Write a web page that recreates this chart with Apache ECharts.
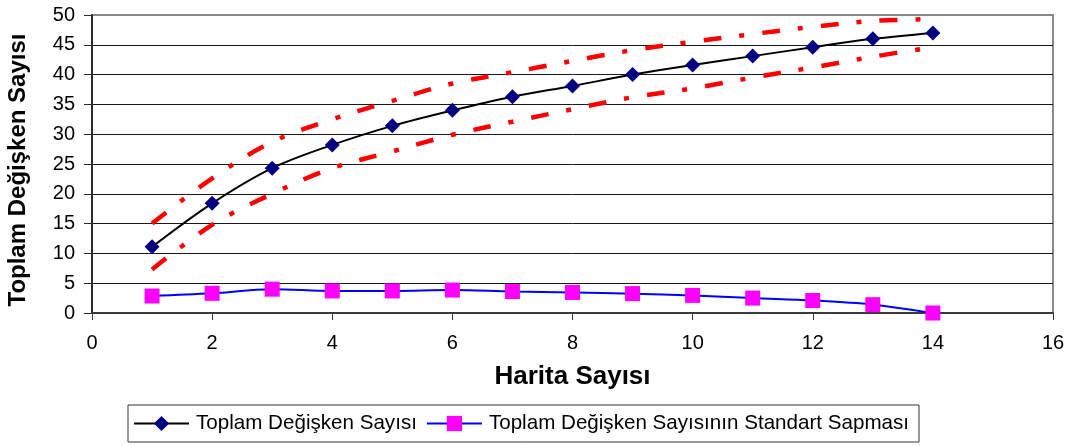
<!DOCTYPE html>
<html>
<head>
<meta charset="utf-8">
<script src="https://cdn.jsdelivr.net/npm/echarts@6/dist/echarts.min.js"></script>
<style>
  html, body { margin: 0; padding: 0; background: #ffffff; }
  #chart { width: 1077px; height: 446px; }
</style>
</head>
<body>
<div id="chart"></div>
<script>
// Number of maps (x axis)
const haritaSayisi = [1, 2, 3, 4, 5, 6, 7, 8, 9, 10, 11, 12, 13, 14];
// Total number of variables
const toplamDegisken = [11.1, 18.4, 24.3, 28.2, 31.4, 34.0, 36.3, 38.1, 40.0, 41.6, 43.1, 44.6, 46.0, 47.0];
// Standard deviation of the total number of variables
const standartSapma = [2.85, 3.3, 4.0, 3.7, 3.7, 3.85, 3.6, 3.45, 3.25, 2.95, 2.5, 2.1, 1.4, 0.0];
// Upper and lower band around the total
const ustSinir = [15.0, 22.6, 28.7, 32.5, 35.6, 38.5, 40.4, 42.3, 44.1, 45.5, 46.8, 48.0, 49.0, 49.3];
const altSinir = [7.3, 14.8, 20.0, 24.3, 27.1, 29.9, 32.1, 34.2, 36.2, 37.7, 39.5, 41.2, 43.0, 44.6];

const FONT = '"Liberation Sans", Arial, sans-serif';
const pairs = ys => haritaSayisi.map((x, i) => [x, ys[i]]);

const chart = echarts.init(document.getElementById('chart'), null, { renderer: 'canvas' });

const bandLine = {
  color: '#ff0000',
  width: 4.5,
  type: [18, 18, 5, 18],
  cap: 'butt'
};

chart.setOption({
  animation: false,
  backgroundColor: '#ffffff',
  grid: {
    left: 92, top: 15, right: 24, bottom: 133,
    show: true,
    borderColor: '#888888',
    borderWidth: 2,
    containLabel: false,
    outerBoundsMode: 'none'
  },
  legend: {
    left: 128,
    top: 405,
    orient: 'horizontal',
    data: ['Toplam Değişken Sayısı', 'Toplam Değişken Sayısının Standart Sapması'],
    itemWidth: 55,
    itemHeight: 19,
    itemGap: 9,
    padding: [8, 10, 8, 5],
    borderColor: '#333333',
    borderWidth: 1,
    textStyle: { fontFamily: FONT, fontSize: 20.6, color: '#000000', padding: [0, 0, 0, 2] }
  },
  xAxis: {
    type: 'value',
    min: 0, max: 16, interval: 2,
    name: 'Harita Sayısı',
    nameLocation: 'middle',
    nameGap: 51,
    nameMoveOverlap: false,
    nameTextStyle: { fontFamily: FONT, fontSize: 26, fontWeight: 'bold', color: '#000000' },
    axisLine: { show: true, onZero: false, lineStyle: { color: '#3a3a3a', width: 2 } },
    axisTick: { show: true, inside: false, length: 7, lineStyle: { color: '#3a3a3a', width: 1 } },
    axisLabel: { margin: 20, fontFamily: FONT, fontSize: 20, color: '#000000' },
    splitLine: { show: false }
  },
  yAxis: {
    type: 'value',
    min: 0, max: 50, interval: 5,
    name: 'Toplam Değişken Sayısı',
    nameLocation: 'middle',
    nameRotate: 90,
    nameGap: 62,
    nameMoveOverlap: false,
    nameTextStyle: { fontFamily: FONT, fontSize: 24, fontWeight: 'bold', color: '#000000', padding: [0, 12, 0, 0] },
    axisLine: { show: true, onZero: false, lineStyle: { color: '#2a2a2a', width: 2 } },
    axisTick: { show: true, inside: false, length: 8, lineStyle: { color: '#2a2a2a', width: 1 } },
    axisLabel: { margin: 17, fontFamily: FONT, fontSize: 20, color: '#000000' },
    splitLine: { show: true, showMaxLine: false, showMinLine: false, lineStyle: { color: '#1a1a1a', width: 1 } }
  },
  series: [
    {
      name: 'Üst Sınır',
      type: 'line',
      data: pairs(ustSinir),
      smooth: 0.35,
      symbol: 'none',
      lineStyle: bandLine,
      z: 2
    },
    {
      name: 'Alt Sınır',
      type: 'line',
      data: pairs(altSinir),
      smooth: 0.35,
      symbol: 'none',
      lineStyle: bandLine,
      z: 2
    },
    {
      name: 'Toplam Değişken Sayısı',
      type: 'line',
      data: pairs(toplamDegisken),
      smooth: 0.35,
      symbol: 'diamond',
      symbolSize: 15,
      itemStyle: { color: '#000080' },
      lineStyle: { color: '#000000', width: 2 },
      z: 3
    },
    {
      name: 'Toplam Değişken Sayısının Standart Sapması',
      type: 'line',
      data: pairs(standartSapma),
      smooth: 0.35,
      symbol: 'rect',
      symbolSize: 15,
      itemStyle: { color: '#ff00ff' },
      lineStyle: { color: '#0000ff', width: 2 },
      z: 3
    }
  ]
});
</script>
</body>
</html>
